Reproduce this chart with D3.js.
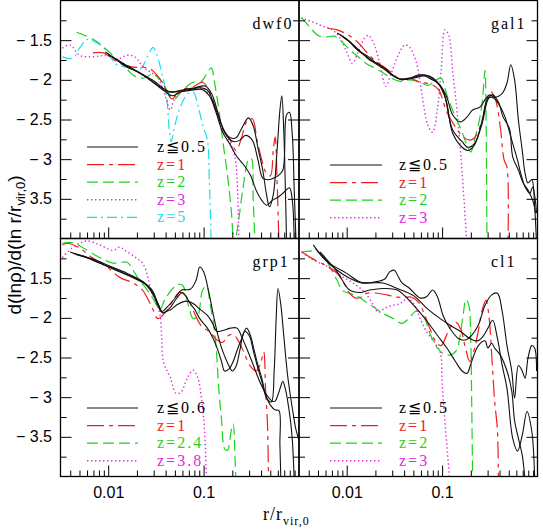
<!DOCTYPE html>
<html>
<head>
<meta charset="utf-8">
<script src="https://cdn.jsdelivr.net/npm/d3@7"></script>
<style>
  body { margin: 0; background: #fff; }
  svg { display: block; }
</style>
</head>
<body>
<div id="chart"></div>
<script>
// every curve is a list of [log10(r/r_vir,0), d ln rho / d ln r]

// dwf0
const dwf0_z0a = [[-2.03,-1.65],[-1.93,-1.73],[-1.82,-1.83],[-1.69,-1.90],[-1.54,-2.00],[-1.45,-2.08],[-1.38,-2.15],[-1.30,-2.15],[-1.19,-2.12],[-1.09,-2.10],[-0.98,-2.08],[-0.91,-2.19],[-0.85,-2.41],[-0.79,-2.63],[-0.72,-2.73],[-0.66,-2.73],[-0.60,-2.61],[-0.53,-2.48],[-0.48,-2.58],[-0.43,-2.86],[-0.38,-3.14],[-0.34,-3.45],[-0.31,-3.60],[-0.27,-3.45],[-0.23,-2.89],[-0.20,-2.38],[-0.18,-2.20],[-0.16,-2.63],[-0.14,-3.52],[-0.13,-4.08]];
const dwf0_z0b = [[-2.00,-1.69],[-1.90,-1.75],[-1.79,-1.83],[-1.67,-1.91],[-1.54,-2.02],[-1.44,-2.10],[-1.35,-2.15],[-1.25,-2.14],[-1.14,-2.12],[-1.04,-2.10],[-0.96,-2.13],[-0.89,-2.31],[-0.83,-2.51],[-0.75,-2.72],[-0.68,-2.78],[-0.62,-2.76],[-0.56,-2.70],[-0.49,-2.76],[-0.43,-3.01],[-0.38,-3.24],[-0.32,-3.26],[-0.27,-3.24],[-0.22,-3.21],[-0.17,-3.14],[-0.13,-2.44],[-0.10,-2.41],[-0.07,-2.70],[-0.05,-3.39],[-0.03,-4.08]];
const dwf0_z0c = [[-1.96,-1.71],[-1.86,-1.79],[-1.75,-1.86],[-1.61,-1.96],[-1.49,-2.07],[-1.40,-2.15],[-1.33,-2.20],[-1.23,-2.15],[-1.12,-2.13],[-1.02,-2.12],[-0.94,-2.20],[-0.87,-2.41],[-0.80,-2.66],[-0.72,-2.82],[-0.65,-2.97],[-0.58,-3.07],[-0.51,-3.20],[-0.45,-3.39],[-0.39,-3.52],[-0.34,-3.58],[-0.28,-3.52],[-0.22,-3.48],[-0.16,-3.42],[-0.10,-3.36],[-0.07,-3.52],[-0.05,-4.08]];
const dwf0_z1 = [[-2.16,-1.66],[-2.05,-1.66],[-1.96,-1.73],[-1.88,-1.79],[-1.74,-1.84],[-1.64,-1.84],[-1.56,-1.86],[-1.49,-1.94],[-1.43,-2.04],[-1.37,-2.19],[-1.33,-2.24],[-1.28,-2.17],[-1.22,-2.12],[-1.11,-2.09],[-1.01,-2.03],[-0.93,-2.17],[-0.86,-2.42],[-0.80,-2.63],[-0.72,-2.76],[-0.66,-2.89],[-0.60,-2.72],[-0.55,-2.53],[-0.49,-2.49],[-0.44,-2.76],[-0.39,-3.01],[-0.35,-3.16],[-0.30,-3.21],[-0.27,-2.89],[-0.25,-2.72],[-0.23,-3.26],[-0.21,-4.08]];
const dwf0_z2 = [[-2.33,-1.40],[-2.14,-1.50],[-1.98,-1.66],[-1.82,-1.84],[-1.74,-1.94],[-1.64,-1.98],[-1.53,-1.93],[-1.43,-2.03],[-1.32,-2.25],[-1.22,-2.13],[-1.11,-2.03],[-1.04,-2.04],[-0.97,-1.93],[-0.92,-1.85],[-0.88,-2.07],[-0.84,-2.38],[-0.80,-2.76],[-0.75,-3.20],[-0.71,-3.64],[-0.68,-4.08],[-0.64,-3.83],[-0.59,-3.39],[-0.53,-3.01],[-0.50,-2.99],[-0.48,-3.52],[-0.46,-4.08]];
const dwf0_z3 = [[-2.48,-1.60],[-2.40,-1.56],[-2.30,-1.69],[-2.19,-1.71],[-2.09,-1.70],[-2.01,-1.69],[-1.91,-1.74],[-1.80,-1.69],[-1.72,-1.71],[-1.64,-1.83],[-1.56,-1.90],[-1.49,-1.96],[-1.43,-2.10],[-1.39,-2.25],[-1.35,-2.38],[-1.31,-2.25],[-1.25,-2.15],[-1.14,-2.12],[-1.04,-2.10],[-0.96,-2.15],[-0.90,-2.29],[-0.83,-2.53],[-0.75,-2.72],[-0.69,-2.89],[-0.66,-3.07],[-0.64,-3.52],[-0.63,-4.08]];
const dwf0_z5 = [[-2.48,-1.71],[-2.37,-1.73],[-2.30,-1.60],[-2.22,-1.49],[-2.14,-1.52],[-2.05,-1.59],[-1.98,-1.71],[-1.91,-1.81],[-1.80,-1.84],[-1.70,-1.89],[-1.64,-1.83],[-1.58,-1.69],[-1.53,-1.59],[-1.49,-1.69],[-1.44,-1.90],[-1.39,-2.19],[-1.36,-2.63],[-1.34,-2.78],[-1.30,-2.57],[-1.25,-2.36],[-1.17,-2.18],[-1.11,-2.15],[-1.06,-2.32],[-1.01,-2.57],[-0.96,-2.76],[-0.94,-3.26],[-0.92,-4.08]];

// gal1
const gal1_z0a = [[-2.10,-1.41],[-2.02,-1.47],[-1.93,-1.56],[-1.84,-1.66],[-1.76,-1.75],[-1.67,-1.80],[-1.59,-1.88],[-1.50,-1.96],[-1.42,-2.00],[-1.34,-1.98],[-1.25,-1.94],[-1.18,-1.94],[-1.11,-1.98],[-1.02,-2.07],[-0.95,-2.22],[-0.89,-2.44],[-0.81,-2.53],[-0.74,-2.47],[-0.68,-2.38],[-0.60,-2.34],[-0.55,-2.25],[-0.50,-2.19],[-0.45,-2.22],[-0.37,-2.17],[-0.32,-2.04],[-0.28,-1.81],[-0.24,-2.00],[-0.20,-2.51],[-0.16,-2.89],[-0.13,-3.18],[-0.10,-3.30],[-0.06,-3.26],[-0.03,-3.60],[-0.01,-4.08]];
const gal1_z0b = [[-2.07,-1.43],[-1.98,-1.51],[-1.90,-1.61],[-1.80,-1.70],[-1.72,-1.78],[-1.64,-1.84],[-1.55,-1.91],[-1.47,-1.98],[-1.39,-1.99],[-1.30,-1.97],[-1.22,-1.94],[-1.14,-1.95],[-1.07,-2.00],[-0.99,-2.13],[-0.89,-2.63],[-0.79,-2.78],[-0.73,-2.85],[-0.66,-2.80],[-0.58,-2.55],[-0.52,-2.25],[-0.47,-2.19],[-0.41,-2.28],[-0.36,-2.47],[-0.32,-2.55],[-0.29,-2.63],[-0.26,-2.97],[-0.20,-3.14],[-0.15,-3.30],[-0.10,-3.39],[-0.05,-3.52],[-0.02,-3.68]];
const gal1_z0c = [[-2.04,-1.46],[-1.95,-1.54],[-1.87,-1.64],[-1.77,-1.71],[-1.69,-1.79],[-1.60,-1.85],[-1.52,-1.94],[-1.44,-1.99],[-1.35,-1.99],[-1.27,-1.97],[-1.19,-1.95],[-1.12,-1.99],[-1.04,-2.05],[-0.96,-2.25],[-0.89,-2.67],[-0.79,-2.85],[-0.73,-2.89],[-0.66,-2.82],[-0.58,-2.51],[-0.52,-2.23],[-0.46,-2.23],[-0.39,-2.34],[-0.34,-2.47],[-0.27,-2.76],[-0.21,-3.01],[-0.18,-3.16],[-0.13,-3.35],[-0.08,-3.43],[-0.05,-3.35],[-0.01,-3.68]];
const gal1_z1 = [[-2.20,-1.35],[-2.10,-1.37],[-1.99,-1.43],[-1.89,-1.52],[-1.80,-1.64],[-1.72,-1.74],[-1.62,-1.83],[-1.53,-1.91],[-1.44,-1.99],[-1.34,-1.98],[-1.23,-2.03],[-1.13,-2.05],[-1.04,-2.12],[-0.95,-2.41],[-0.84,-2.63],[-0.78,-2.72],[-0.71,-2.76],[-0.66,-2.73],[-0.58,-2.51],[-0.53,-2.25],[-0.49,-2.15],[-0.44,-2.25],[-0.39,-2.60],[-0.35,-3.01],[-0.32,-3.10],[-0.31,-4.08]];
const gal1_z2 = [[-2.47,-1.22],[-2.39,-1.33],[-2.30,-1.44],[-2.22,-1.46],[-2.13,-1.45],[-2.05,-1.52],[-1.97,-1.62],[-1.88,-1.71],[-1.80,-1.79],[-1.71,-1.85],[-1.62,-1.91],[-1.53,-1.98],[-1.44,-2.02],[-1.34,-2.00],[-1.23,-2.03],[-1.15,-2.07],[-1.06,-2.00],[-1.01,-1.98],[-0.95,-2.19],[-0.88,-2.41],[-0.80,-2.63],[-0.74,-2.82],[-0.70,-2.91],[-0.66,-2.76],[-0.61,-2.51],[-0.58,-2.29],[-0.55,-1.88],[-0.54,-2.38],[-0.53,-4.08]];
const gal1_z3 = [[-2.48,-1.22],[-2.36,-1.27],[-2.26,-1.32],[-2.15,-1.37],[-2.07,-1.47],[-2.00,-1.65],[-1.94,-1.79],[-1.88,-1.65],[-1.81,-1.47],[-1.77,-1.44],[-1.71,-1.56],[-1.65,-1.81],[-1.59,-2.08],[-1.54,-1.94],[-1.46,-1.69],[-1.39,-1.56],[-1.34,-1.59],[-1.27,-1.78],[-1.21,-2.19],[-1.15,-2.57],[-1.10,-2.66],[-1.05,-2.38],[-1.01,-1.88],[-0.97,-1.37],[-0.93,-1.44],[-0.89,-1.88],[-0.84,-2.44],[-0.80,-3.01],[-0.77,-3.52],[-0.74,-4.08]];

// grp1
const grp1_z0a = [[-2.40,-1.17],[-2.30,-1.21],[-2.16,-1.26],[-1.98,-1.35],[-1.80,-1.44],[-1.64,-1.54],[-1.54,-1.65],[-1.48,-1.82],[-1.44,-1.92],[-1.37,-1.85],[-1.30,-1.75],[-1.23,-1.65],[-1.14,-1.64],[-1.08,-1.53],[-1.04,-1.36],[-1.00,-1.42],[-0.95,-1.65],[-0.90,-1.95],[-0.85,-2.22],[-0.80,-2.42],[-0.74,-2.59],[-0.70,-2.67],[-0.66,-2.61],[-0.62,-2.41],[-0.57,-2.17],[-0.52,-2.23],[-0.48,-2.41],[-0.43,-2.64],[-0.39,-2.80],[-0.34,-3.01],[-0.29,-3.06],[-0.26,-2.66],[-0.24,-2.03],[-0.22,-1.63],[-0.19,-1.84],[-0.16,-2.22],[-0.12,-2.72],[-0.07,-3.14],[-0.03,-3.42],[0.00,-3.54]];
const grp1_z0b = [[-2.37,-1.19],[-2.26,-1.22],[-2.13,-1.29],[-1.96,-1.37],[-1.79,-1.46],[-1.62,-1.56],[-1.53,-1.69],[-1.47,-1.84],[-1.43,-1.93],[-1.35,-1.90],[-1.27,-1.83],[-1.18,-1.79],[-1.11,-1.82],[-1.04,-1.89],[-0.96,-1.97],[-0.91,-2.06],[-0.86,-2.17],[-0.80,-2.16],[-0.72,-2.13],[-0.65,-2.13],[-0.60,-2.24],[-0.55,-2.38],[-0.49,-2.56],[-0.44,-2.72],[-0.39,-2.86],[-0.34,-2.97],[-0.28,-3.05],[-0.25,-3.05],[-0.22,-2.97],[-0.19,-2.86],[-0.17,-2.80],[-0.14,-2.91],[-0.12,-3.04],[-0.09,-3.29],[-0.07,-3.54],[-0.05,-4.05]];
const grp1_z0c = [[-2.34,-1.20],[-2.23,-1.24],[-2.09,-1.31],[-1.92,-1.40],[-1.75,-1.49],[-1.60,-1.59],[-1.52,-1.73],[-1.47,-1.87],[-1.43,-1.94],[-1.35,-1.87],[-1.28,-1.75],[-1.22,-1.68],[-1.14,-1.82],[-1.09,-1.90],[-1.04,-2.01],[-0.96,-2.13],[-0.90,-2.26],[-0.85,-2.41],[-0.81,-2.56],[-0.78,-2.67],[-0.73,-2.64],[-0.69,-2.55],[-0.64,-2.38],[-0.60,-2.26],[-0.55,-2.13],[-0.51,-2.22],[-0.47,-2.41],[-0.43,-2.60],[-0.39,-2.76],[-0.35,-2.97],[-0.30,-3.10],[-0.25,-3.16],[-0.21,-3.17],[-0.20,-3.60],[-0.19,-4.05]];
const grp1_z1 = [[-2.48,-1.08],[-2.43,-1.06],[-2.30,-1.12],[-2.16,-1.25],[-2.01,-1.36],[-1.88,-1.49],[-1.74,-1.56],[-1.64,-1.65],[-1.54,-1.87],[-1.48,-2.01],[-1.40,-1.93],[-1.32,-1.78],[-1.25,-1.68],[-1.17,-1.75],[-1.10,-1.93],[-1.02,-2.11],[-0.93,-2.18],[-0.86,-2.28],[-0.80,-2.31],[-0.75,-2.23],[-0.69,-2.21],[-0.64,-2.28],[-0.58,-2.43],[-0.51,-2.61],[-0.45,-2.67],[-0.40,-2.56],[-0.37,-2.43],[-0.35,-2.91],[-0.33,-3.35],[-0.32,-4.05]];
const grp1_z24 = [[-2.48,-1.06],[-2.38,-1.05],[-2.26,-1.12],[-2.09,-1.24],[-1.95,-1.31],[-1.80,-1.30],[-1.74,-1.40],[-1.67,-1.53],[-1.59,-1.65],[-1.51,-1.80],[-1.46,-1.90],[-1.41,-1.78],[-1.33,-1.64],[-1.27,-1.58],[-1.22,-1.59],[-1.16,-1.84],[-1.11,-2.01],[-1.06,-1.97],[-1.01,-1.65],[-0.97,-1.60],[-0.93,-1.84],[-0.90,-2.04],[-0.87,-2.35],[-0.84,-2.91],[-0.81,-3.31],[-0.78,-3.65],[-0.75,-3.67],[-0.71,-3.42],[-0.69,-3.34],[-0.67,-3.80],[-0.66,-4.11]];
const grp1_z38 = [[-2.48,-1.24],[-2.38,-1.12],[-2.30,-1.06],[-2.22,-1.03],[-2.09,-1.08],[-1.95,-1.15],[-1.88,-1.11],[-1.80,-1.17],[-1.70,-1.25],[-1.64,-1.31],[-1.59,-1.46],[-1.56,-1.61],[-1.51,-1.78],[-1.46,-1.94],[-1.44,-2.24],[-1.42,-2.56],[-1.35,-2.75],[-1.29,-2.95],[-1.24,-2.94],[-1.17,-2.76],[-1.11,-2.66],[-1.06,-2.76],[-1.02,-3.04],[-0.99,-3.42],[-0.97,-4.05]];

// cl1
const cl1_z0a = [[-2.35,-1.08],[-2.25,-1.24],[-2.10,-1.40],[-1.97,-1.50],[-1.84,-1.56],[-1.72,-1.55],[-1.60,-1.51],[-1.55,-1.42],[-1.50,-1.40],[-1.46,-1.48],[-1.42,-1.56],[-1.34,-1.63],[-1.23,-1.75],[-1.16,-1.73],[-1.10,-1.65],[-1.05,-1.73],[-0.99,-1.97],[-0.92,-2.13],[-0.83,-2.26],[-0.76,-2.28],[-0.69,-2.22],[-0.62,-2.09],[-0.55,-1.84],[-0.48,-1.71],[-0.42,-1.69],[-0.37,-1.92],[-0.32,-2.35],[-0.27,-2.67],[-0.24,-3.01],[-0.20,-2.60],[-0.16,-2.67],[-0.13,-2.76],[-0.10,-2.51],[-0.06,-2.35],[-0.03,-2.38],[-0.01,-2.67]];
const cl1_z0b = [[-2.33,-1.12],[-2.18,-1.31],[-2.00,-1.44],[-1.86,-1.55],[-1.76,-1.56],[-1.62,-1.56],[-1.47,-1.63],[-1.30,-1.72],[-1.16,-1.88],[-1.02,-2.01],[-0.92,-2.09],[-0.81,-2.17],[-0.71,-2.26],[-0.63,-2.29],[-0.57,-2.23],[-0.52,-2.13],[-0.47,-2.03],[-0.42,-2.26],[-0.37,-2.60],[-0.32,-2.89],[-0.26,-3.52],[-0.21,-3.68],[-0.16,-3.48],[-0.11,-3.18],[-0.06,-3.43],[-0.03,-4.00]];
const cl1_z0c = [[-2.28,-1.17],[-2.10,-1.42],[-1.97,-1.65],[-1.86,-1.68],[-1.76,-1.65],[-1.62,-1.63],[-1.47,-1.65],[-1.30,-1.84],[-1.16,-2.04],[-1.05,-2.22],[-0.95,-2.38],[-0.86,-2.55],[-0.79,-2.67],[-0.74,-2.70],[-0.69,-2.55],[-0.62,-2.35],[-0.55,-2.29],[-0.52,-2.38],[-0.48,-2.32],[-0.45,-2.38],[-0.39,-2.47],[-0.32,-2.67],[-0.27,-2.92],[-0.24,-3.30],[-0.20,-3.52],[-0.16,-3.73],[-0.13,-4.05]];
const cl1_z1 = [[-2.47,-1.17],[-2.35,-1.26],[-2.25,-1.32],[-2.18,-1.37],[-2.10,-1.44],[-2.03,-1.56],[-1.97,-1.69],[-1.91,-1.75],[-1.85,-1.74],[-1.79,-1.69],[-1.68,-1.69],[-1.58,-1.71],[-1.47,-1.74],[-1.39,-1.74],[-1.32,-1.74],[-1.25,-1.80],[-1.19,-1.94],[-1.13,-2.13],[-1.06,-2.31],[-1.01,-2.35],[-0.96,-2.24],[-0.91,-2.11],[-0.85,-2.06],[-0.80,-2.16],[-0.75,-2.41],[-0.71,-2.55],[-0.67,-2.43],[-0.62,-2.16],[-0.58,-1.90],[-0.54,-1.78],[-0.51,-1.97],[-0.48,-2.47],[-0.45,-3.04],[-0.42,-3.42],[-0.41,-4.05]];
const cl1_z2 = [[-2.48,-1.17],[-2.38,-1.16],[-2.30,-1.17],[-2.24,-1.22],[-2.18,-1.35],[-2.10,-1.53],[-2.04,-1.66],[-1.97,-1.69],[-1.88,-1.73],[-1.80,-1.80],[-1.70,-1.88],[-1.61,-1.95],[-1.51,-2.01],[-1.42,-2.07],[-1.35,-2.01],[-1.28,-1.92],[-1.23,-1.93],[-1.18,-2.01],[-1.13,-2.19],[-1.05,-2.38],[-0.99,-2.45],[-0.92,-2.47],[-0.85,-2.41],[-0.81,-2.22],[-0.78,-1.97],[-0.75,-1.77],[-0.72,-1.84],[-0.70,-2.28],[-0.69,-3.04],[-0.68,-4.05]];
const cl1_z3 = [[-2.47,-1.17],[-2.38,-1.25],[-2.30,-1.30],[-2.22,-1.34],[-2.12,-1.42],[-2.02,-1.50],[-1.91,-1.58],[-1.81,-1.68],[-1.72,-1.84],[-1.67,-1.93],[-1.60,-1.88],[-1.51,-1.84],[-1.44,-1.82],[-1.36,-1.75],[-1.29,-1.84],[-1.23,-2.01],[-1.16,-2.18],[-1.08,-2.31],[-1.02,-2.43],[-1.00,-2.79],[-0.98,-3.17],[-0.95,-3.61],[-0.92,-4.05]];

// axis ticks and labels
const xMajorTicks = [0.01, 0.1];
const xMinorTicks = [0.004, 0.005, 0.006, 0.007, 0.008, 0.009, 0.02, 0.03, 0.04, 0.05, 0.06, 0.07, 0.08, 0.09, 0.2, 0.3, 0.4, 0.5, 0.6, 0.7, 0.8, 0.9];
const xTickLabels = ["0.01", "0.1"];
const yMajorTicks = [-1.5, -2, -2.5, -3, -3.5];
const yMinorTicks = [-1.25, -1.75, -2.25, -2.75, -3.25, -3.75];
// as printed: the y title covers one minus sign in each row
const yTickLabelsTop = ["−1.5", "−2", "−2.5", "−3", "3.5"];
const yTickLabelsBottom = ["1.5", "−2", "−2.5", "−3", "−3.5"];

const dwf0Labels = ["z≦0.5", "z=1", "z=2", "z=3", "z=5"];
const gal1Labels = ["z≦0.5", "z=1", "z=2", "z=3"];
const grp1Labels = ["z≦0.6", "z=1", "z=2.4", "z=3.8"];
const cl1Labels = ["z≦0.5", "z=1", "z=2", "z=3"];

const styles = {
  k: { color: "#111", dash: null, width: 1.1 },
  r: { color: "#f21d1d", dash: "17,5,4,5", width: 1.2 },
  g: { color: "#1ed21e", dash: "11,5", width: 1.2 },
  m: { color: "#e228e2", dash: "1.4,2.6", width: 1.4 },
  c: { color: "#1cdcec", dash: "10,4,2,4", width: 1.2 }
};

const panels = [
  { name: "dwf0", col: 0, row: 0, legendY: 146.5, labels: dwf0Labels,
    series: [["k", [dwf0_z0a, dwf0_z0b, dwf0_z0c]], ["r", [dwf0_z1]], ["g", [dwf0_z2]], ["m", [dwf0_z3]], ["c", [dwf0_z5]]] },
  { name: "gal1", col: 1, row: 0, legendY: 164.5, labels: gal1Labels,
    series: [["k", [gal1_z0a, gal1_z0b, gal1_z0c]], ["r", [gal1_z1]], ["g", [gal1_z2]], ["m", [gal1_z3]]] },
  { name: "grp1", col: 0, row: 1, legendY: 169.5, labels: grp1Labels,
    series: [["k", [grp1_z0a, grp1_z0b, grp1_z0c]], ["r", [grp1_z1]], ["g", [grp1_z24]], ["m", [grp1_z38]]] },
  { name: "cl1", col: 1, row: 1, legendY: 169.5, labels: cl1Labels,
    series: [["k", [cl1_z0a, cl1_z0b, cl1_z0c]], ["r", [cl1_z1]], ["g", [cl1_z2]], ["m", [cl1_z3]]] }
];

const width = 543, height = 532;
const colX = [60.5, 299], rowY = [0.5, 238.5];
const pw = 238.5, ph = 238;
const legendX = [[26.5, 77.5, 96.5], [31, 83, 100]];
const serif = "'Liberation Serif', 'DejaVu Serif', serif";
const sans = "'Liberation Sans', Arial, sans-serif";

const svg = d3.select("#chart").append("svg")
  .attr("width", width)
  .attr("height", height);

const x = d3.scaleLog().domain([Math.pow(10, -2.5), 1]).range([0, pw]);
const y = d3.scaleLinear().domain([-4, -1]).range([ph, 0]);

const line = d3.line()
  .x(d => x(Math.pow(10, d[0])))
  .y(d => y(d[1]))
  .curve(d3.curveCatmullRom.alpha(0.5));

panels.forEach((p, i) => {
  const g = svg.append("g")
    .attr("transform", `translate(${colX[p.col]},${rowY[p.row]})`);

  g.append("clipPath").attr("id", "clip" + i)
    .append("rect").attr("width", pw).attr("height", ph);

  // curves
  const plot = g.append("g").attr("clip-path", `url(#clip${i})`);
  p.series.slice().reverse().forEach(([key, curves]) => {
    const s = styles[key];
    plot.selectAll(null)
      .data(curves)
      .enter()
      .append("path")
      .attr("fill", "none")
      .attr("stroke", s.color)
      .attr("stroke-width", s.width)
      .attr("stroke-dasharray", s.dash)
      .attr("d", line);
  });

  // ticks, all pointing inward
  const tickStyle = sel => {
    sel.select(".domain").remove();
    sel.selectAll("line").attr("stroke", "#000").attr("stroke-width", 1);
    sel.selectAll("text").style("font-family", sans).style("font-size", "16px").attr("fill", "#000");
  };

  g.append("g").attr("transform", `translate(0,${ph})`)
    .call(d3.axisBottom(x).tickValues(xMinorTicks).tickSize(-6).tickFormat(""))
    .call(tickStyle);
  g.append("g").attr("transform", `translate(0,${ph})`)
    .call(d3.axisBottom(x).tickValues(xMajorTicks).tickSize(-11).tickPadding(10)
      .tickFormat((d, k) => p.row === 1 ? xTickLabels[k] : ""))
    .call(tickStyle);

  const yLabels = p.row === 0 ? yTickLabelsTop : yTickLabelsBottom;
  g.append("g")
    .call(d3.axisLeft(y).tickValues(yMinorTicks).tickSize(-6).tickFormat(""))
    .call(tickStyle);
  g.append("g")
    .call(d3.axisLeft(y).tickValues(yMajorTicks).tickSize(-11).tickPadding(8.5)
      .tickFormat((d, k) => p.col === 0 ? yLabels[k].replace("−", "− ") : ""))
    .call(tickStyle);
  g.append("g").attr("transform", `translate(${pw},0)`)
    .call(d3.axisRight(y).tickValues(yMinorTicks).tickSize(-6).tickFormat(""))
    .call(tickStyle);
  g.append("g").attr("transform", `translate(${pw},0)`)
    .call(d3.axisRight(y).tickValues(yMajorTicks).tickSize(-11).tickFormat(""))
    .call(tickStyle);

  // frame
  g.append("rect")
    .attr("width", pw).attr("height", ph)
    .attr("fill", "none").attr("stroke", "#000").attr("stroke-width", 1.3);

  // panel name
  g.append("text")
    .attr("x", 192).attr("y", 28.5)
    .style("font-family", serif).style("font-size", "16px")
    .style("letter-spacing", "2px")
    .text(p.name);

  // legend
  const [lx0, lx1, tx] = legendX[p.col];
  p.series.forEach(([key], k) => {
    const s = styles[key];
    const ly = p.legendY + k * 17.6;
    g.append("line")
      .attr("x1", lx0).attr("x2", lx1).attr("y1", ly).attr("y2", ly)
      .attr("stroke", s.color).attr("stroke-width", s.width)
      .attr("stroke-dasharray", s.dash);
    g.append("text")
      .attr("x", tx).attr("y", ly + 5)
      .attr("fill", key === "k" ? "#000" : s.color)
      .style("font-family", serif).style("font-size", "16px")
      .style("letter-spacing", "2px")
      .text(p.labels[k]);
  });
});

// axis titles
const xt = svg.append("text")
  .attr("x", 263).attr("y", 520)
  .style("font-family", serif).style("font-size", "18px")
  .style("letter-spacing", "1px");
xt.append("tspan").text("r/r");
xt.append("tspan").attr("dy", 5).style("font-size", "12px").text("vir,0");

const yt = svg.append("text")
  .attr("transform", "translate(21,245) rotate(-90)")
  .attr("text-anchor", "middle")
  .style("font-family", sans).style("font-size", "19px");
yt.append("tspan").text("d(lnρ)/d(ln r/r");
yt.append("tspan").attr("dy", 4).style("font-size", "13px").text("vir,0");
yt.append("tspan").attr("dy", -4).text(")");
</script>
</body>
</html>
